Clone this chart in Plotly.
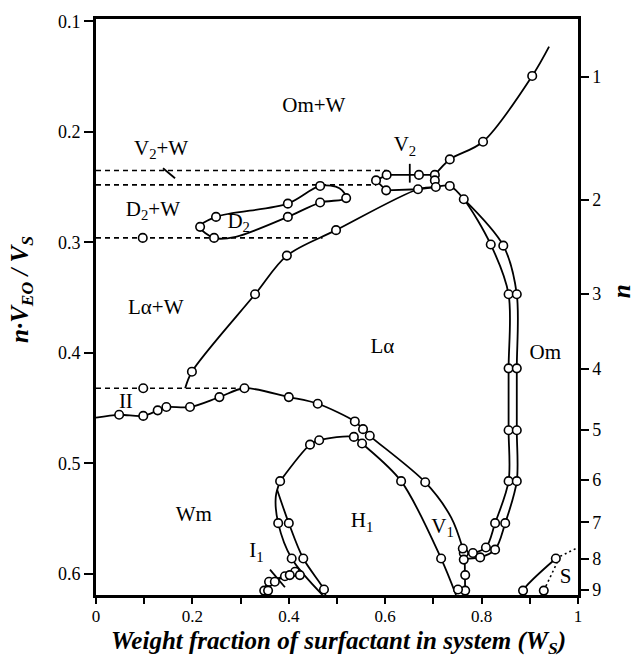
import plotly.graph_objects as go

FONT = "Liberation Serif"

# ---- phase boundaries: x (W_S), y (n*V_EO/V_S), marker flags ----
upper_right_x = [0.703, 0.734, 0.803, 0.905, 0.940]
upper_right_y = [0.239, 0.225, 0.209, 0.1495, 0.123]
upper_right_m = [0, 1, 1, 1, 0]

v2_loop_x = [0.581, 0.603, 0.670, 0.703, 0.703, 0.705, 0.668, 0.602, 0.581]
v2_loop_y = [0.244, 0.239, 0.239, 0.239, 0.244, 0.250, 0.252, 0.253, 0.244]
v2_loop_m = [1, 1, 1, 1, 1, 1, 1, 1, 0]

la_upper_x = [0.185, 0.199, 0.330, 0.396, 0.498, 0.668, 0.705]
la_upper_y = [0.432, 0.417, 0.347, 0.312, 0.289, 0.252, 0.250]
la_upper_m = [0, 1, 1, 1, 1, 0, 0]

d2_loop_x = [0.216, 0.249, 0.398, 0.465, 0.505, 0.519, 0.465, 0.398, 0.290, 0.245, 0.216]
d2_loop_y = [0.286, 0.277, 0.265, 0.249, 0.251, 0.260, 0.264, 0.277, 0.295, 0.296, 0.286]
d2_loop_m = [1, 1, 1, 1, 0, 1, 1, 1, 0, 1, 0]

om_inner_x = [0.705, 0.734, 0.763, 0.819, 0.856, 0.856, 0.856, 0.856, 0.828, 0.809, 0.782, 0.763]
om_inner_y = [0.250, 0.249, 0.261, 0.302, 0.347, 0.414, 0.470, 0.516, 0.554, 0.576, 0.581, 0.581]
om_inner_m = [0, 1, 1, 1, 1, 1, 1, 1, 1, 1, 1, 1]

om_outer_x = [0.763, 0.845, 0.873, 0.873, 0.873, 0.873, 0.849, 0.828, 0.797, 0.774, 0.763]
om_outer_y = [0.261, 0.303, 0.347, 0.414, 0.470, 0.516, 0.554, 0.578, 0.585, 0.586, 0.587]
om_outer_m = [0, 1, 1, 1, 1, 1, 1, 1, 1, 0, 1]

v1_stem_x = [0.765, 0.766, 0.766, 0.766]
v1_stem_y = [0.587, 0.601, 0.615, 0.619]
v1_stem_m = [0, 1, 1, 0]

curve_ii_x = [0.000, 0.048, 0.098, 0.128, 0.146, 0.195, 0.256, 0.308, 0.400, 0.460,
              0.537, 0.554, 0.568, 0.683, 0.737, 0.761]
curve_ii_y = [0.4586, 0.456, 0.457, 0.452, 0.449, 0.449, 0.440, 0.432, 0.440, 0.446,
              0.462, 0.469, 0.475, 0.517, 0.549, 0.577]
curve_ii_m = [0, 1, 1, 1, 1, 1, 1, 1, 1, 1, 1, 1, 1, 1, 0, 1]

h1_arch_x = [0.382, 0.444, 0.463, 0.535, 0.552, 0.633, 0.716, 0.747]
h1_arch_y = [0.516, 0.483, 0.479, 0.476, 0.482, 0.516, 0.586, 0.619]
h1_arch_m = [1, 1, 1, 1, 1, 1, 1, 0]

h1_left_a_x = [0.382, 0.373, 0.378, 0.406, 0.470]
h1_left_a_y = [0.516, 0.530, 0.554, 0.586, 0.619]
h1_left_a_m = [0, 0, 1, 1, 0]

h1_left_b_x = [0.376, 0.400, 0.430, 0.473, 0.476]
h1_left_b_y = [0.524, 0.554, 0.586, 0.614, 0.619]
h1_left_b_m = [0, 1, 1, 1, 0]

h1_foot_x = [0.751]
h1_foot_y = [0.614]
h1_foot_m = [1]

i1_upper_x = [0.349, 0.349, 0.359, 0.392, 0.413, 0.423]
i1_upper_y = [0.619, 0.615, 0.607, 0.602, 0.598, 0.601]
i1_upper_m = [0, 1, 1, 1, 1, 1]

i1_lower_x = [0.357, 0.357, 0.371, 0.402, 0.425]
i1_lower_y = [0.619, 0.615, 0.607, 0.601, 0.603]
i1_lower_m = [0, 1, 1, 1, 0]

s_solid_x = [0.886, 0.886, 0.954]
s_solid_y = [0.619, 0.615, 0.586]
s_solid_m = [0, 1, 1]

s_dot_a_x = [0.954, 1.000]
s_dot_a_y = [0.586, 0.576]
s_dot_b_x = [0.929, 0.964]
s_dot_b_y = [0.615, 0.583]
s_point_x = [0.929]
s_point_y = [0.615]

# three-phase tie lines (dashed)
tie_upper_x, tie_upper_y = [0.0, 0.603], [0.235, 0.235]
tie_mid_x, tie_mid_y = [0.0, 0.581], [0.248, 0.248]
tie_d2_x, tie_d2_y = [0.0, 0.470], [0.296, 0.296]
tie_ii_x, tie_ii_y = [0.0, 0.290], [0.432, 0.432]
tie_pts_x = [0.097, 0.098]
tie_pts_y = [0.296, 0.432]

# short pointer / marks
ptr_v2w_x, ptr_v2w_y = [0.139, 0.164], [0.233, 0.242]
tick_v2_x, tick_v2_y = [0.651, 0.651], [0.229, 0.246]
tick_i1_x, tick_i1_y = [0.361, 0.392], [0.596, 0.612]

# region labels
label_text = ["Om+W", "V<sub>2</sub>+W", "D<sub>2</sub>+W", "D<sub>2</sub>", "Lα+W",
              "V<sub>2</sub>", "Lα", "Om", "II", "Wm", "I<sub>1</sub>", "H<sub>1</sub>",
              "V<sub>1</sub>", "S"]
label_x = [0.452, 0.135, 0.118, 0.296, 0.124, 0.641, 0.594, 0.932, 0.062, 0.203,
           0.333, 0.552, 0.719, 0.974]
label_y = [0.177, 0.216, 0.271, 0.282, 0.360, 0.213, 0.395, 0.401, 0.445, 0.547,
           0.580, 0.553, 0.558, 0.603]

# right-hand axis: n, with n*V_EO/V_S = n*k/(1+n*k)
n_values = [1, 2, 3, 4, 5, 6, 7, 8, 9]
k_ratio = 0.177

y_range = [0.619, 0.098]

fig = go.Figure()

LINE_W = 1.8
MK = dict(symbol="circle", size=8.5, color="white", line=dict(color="black", width=1.6))

curves = [
    (upper_right_x, upper_right_y, upper_right_m, "spline"),
    (la_upper_x, la_upper_y, la_upper_m, "spline"),
    (d2_loop_x, d2_loop_y, d2_loop_m, "spline"),
    (om_inner_x, om_inner_y, om_inner_m, "spline"),
    (om_outer_x, om_outer_y, om_outer_m, "spline"),
    (v1_stem_x, v1_stem_y, v1_stem_m, "linear"),
    (curve_ii_x, curve_ii_y, curve_ii_m, "spline"),
    (h1_arch_x, h1_arch_y, h1_arch_m, "spline"),
    (h1_left_a_x, h1_left_a_y, h1_left_a_m, "spline"),
    (h1_left_b_x, h1_left_b_y, h1_left_b_m, "spline"),
    (i1_upper_x, i1_upper_y, i1_upper_m, "spline"),
    (i1_lower_x, i1_lower_y, i1_lower_m, "spline"),
    (s_solid_x, s_solid_y, s_solid_m, "spline"),
    (v2_loop_x, v2_loop_y, v2_loop_m, "linear"),
    (h1_foot_x, h1_foot_y, h1_foot_m, "linear"),
]

# dashed tie lines first so the boundaries sit on top
for tx, ty in [(tie_upper_x, tie_upper_y), (tie_mid_x, tie_mid_y),
               (tie_d2_x, tie_d2_y), (tie_ii_x, tie_ii_y)]:
    fig.add_trace(go.Scatter(x=tx, y=ty, mode="lines",
                             line=dict(color="black", width=1.6, dash="5px,4px"),
                             hoverinfo="skip"))

for tx, ty in [(s_dot_a_x, s_dot_a_y), (s_dot_b_x, s_dot_b_y)]:
    fig.add_trace(go.Scatter(x=tx, y=ty, mode="lines",
                             line=dict(color="black", width=1.6, dash="2px,3px"),
                             hoverinfo="skip"))

for tx, ty in [(ptr_v2w_x, ptr_v2w_y), (tick_v2_x, tick_v2_y), (tick_i1_x, tick_i1_y)]:
    fig.add_trace(go.Scatter(x=tx, y=ty, mode="lines",
                             line=dict(color="black", width=1.8), hoverinfo="skip"))

for cx, cy, cm, shape in curves:
    if len(cx) > 1:
        fig.add_trace(go.Scatter(x=cx, y=cy, mode="lines",
                                 line=dict(color="black", width=LINE_W, shape=shape,
                                           smoothing=0.9),
                                 hoverinfo="skip"))

# open-circle data points
for cx, cy, cm, _ in curves:
    px = [x for x, f in zip(cx, cm) if f]
    py = [y for y, f in zip(cy, cm) if f]
    fig.add_trace(go.Scatter(x=px, y=py, mode="markers", marker=MK, hoverinfo="skip"))

fig.add_trace(go.Scatter(x=tie_pts_x + s_point_x, y=tie_pts_y + s_point_y,
                         mode="markers", marker=MK, hoverinfo="skip"))

# region labels
fig.add_trace(go.Scatter(x=label_x, y=label_y, mode="text", text=label_text,
                         textfont=dict(family=FONT, size=21, color="black"),
                         textposition="middle center", hoverinfo="skip"))

# invisible trace to carry the right-hand n axis
fig.add_trace(go.Scatter(x=[0.5], y=[0.3], yaxis="y2", mode="markers",
                         marker=dict(opacity=0), hoverinfo="skip"))

n_tickvals = [n * k_ratio / (1 + n * k_ratio) for n in n_values]

fig.update_layout(
    width=638, height=659,
    margin=dict(l=96, r=60, t=17, b=64),
    paper_bgcolor="white", plot_bgcolor="white",
    showlegend=False,
    font=dict(family=FONT, color="black"),
    xaxis=dict(range=[0, 1], showgrid=False, zeroline=False,
               showline=True, linewidth=2.5, linecolor="black", mirror=True,
               ticks="outside", ticklen=6, tickwidth=1.5, tickcolor="black",
               tickvals=[0, 0.2, 0.4, 0.6, 0.8, 1.0],
               ticktext=["0", "0.2", "0.4", "0.6", "0.8", "1"],
               ticklabelstandoff=-2,
               minor=dict(tickvals=[0.1, 0.3, 0.5, 0.7, 0.9], ticks="outside",
                          ticklen=6, tickwidth=1.5, tickcolor="black"),
               tickfont=dict(family=FONT, size=17)),
    yaxis=dict(range=y_range, showgrid=False, zeroline=False,
               showline=True, linewidth=3, linecolor="black",
               ticks="outside", ticklen=9, tickwidth=1.5, tickcolor="black",
               tickvals=[0.1, 0.2, 0.3, 0.4, 0.5, 0.6],
               ticktext=["0.1", "0.2", "0.3", "0.4", "0.5", "0.6"],
               tickfont=dict(family=FONT, size=18)),
    yaxis2=dict(range=y_range, overlaying="y", side="right", showgrid=False,
                zeroline=False, showline=True, linewidth=2.5, linecolor="black",
                ticks="outside", ticklen=8, tickwidth=1.5, tickcolor="black",
                tickvals=n_tickvals, ticktext=[str(n) for n in n_values],
                tickfont=dict(family=FONT, size=18)),
    annotations=[
        dict(text="<b><i>Weight fraction of surfactant in system (W<sub>S</sub>)</i></b>",
             xref="paper", yref="paper", x=0.504, y=-0.082, xanchor="center",
             yanchor="middle", showarrow=False, font=dict(family=FONT, size=25)),
        dict(text="<b><i>n·V<sub>EO</sub> / V<sub>S</sub></i></b>",
             xref="paper", yref="paper", x=-0.155, y=0.53, xanchor="center",
             yanchor="middle", textangle=-90, showarrow=False,
             font=dict(family=FONT, size=25)),
        dict(text="<b><i>n</i></b>",
             xref="paper", yref="paper", x=1.092, y=0.528, xanchor="center",
             yanchor="middle", textangle=-90, showarrow=False,
             font=dict(family=FONT, size=25)),
    ],
)

fig.write_html("out.html")
